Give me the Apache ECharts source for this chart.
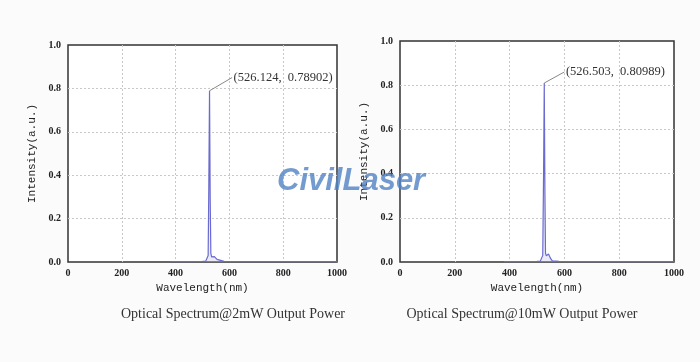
<!DOCTYPE html>
<html><head><meta charset="utf-8">
<script src="https://cdn.jsdelivr.net/npm/echarts@6/dist/echarts.min.js"></script>
<style>html,body{margin:0;padding:0;background:#fbfbfb;}#c{width:700px;height:362px;}</style>
</head><body><div id="c"></div>
<script>
// Wavelength (nm) sample points and intensities
var wl2mW = [380, 450, 500, 512, 518, 521, 523.5, 526.124, 528.5, 531, 534, 538, 544, 550, 554, 560, 580, 650, 750, 850, 1000];
var int2mW = [0.002, 0.002, 0.003, 0.004, 0.008, 0.03, 0.35, 0.78902, 0.3, 0.04, 0.024, 0.026, 0.025, 0.022, 0.012, 0.005, 0.003, 0.002, 0.002, 0.002, 0.002];
var wl10mW = [380, 450, 500, 512, 518, 521, 524, 526.503, 529, 531, 534, 538, 542, 546, 550, 556, 580, 650, 750, 850, 1000];
var int10mW = [0.002, 0.002, 0.003, 0.004, 0.008, 0.03, 0.4, 0.80989, 0.3, 0.04, 0.028, 0.03, 0.036, 0.028, 0.015, 0.005, 0.003, 0.002, 0.002, 0.002, 0.002];
var peak2mW = [526.124, 0.78902];
var peak10mW = [526.503, 0.80989];
var xTicks = [0, 200, 400, 600, 800, 1000];
var yTicks = [0.0, 0.2, 0.4, 0.6, 0.8, 1.0];
var captions = ['Optical Spectrum@2mW Output Power', 'Optical Spectrum@10mW Output Power'];

function pairs(xs, ys){ return xs.map(function(x,i){return [x, ys[i]];}); }

var tickFont = {fontFamily:'Liberation Serif', fontWeight:'bold', fontSize:10, color:'#222'};
var nameFont = {fontFamily:'Liberation Mono', fontSize:11, color:'#222'};
var split = {show:true, showMinLine:false, showMaxLine:false, lineStyle:{color:'#c8c8c8', type:[2,2], width:1}};

function xAxis(gi){
  return {gridIndex:gi, type:'value', min:0, max:1000, interval:200,
    name:'Wavelength(nm)', nameLocation:'middle', nameGap:20, nameTextStyle:nameFont,
    axisLine:{show:false}, axisTick:{show:false},
    axisLabel:Object.assign({margin:6, formatter:function(v){return String(v);}}, tickFont),
    splitLine:split};
}
function yAxis(gi){
  return {gridIndex:gi, type:'value', min:0, max:1, interval:0.2,
    name:'Intensity(a.u.)', nameLocation:'middle', nameGap:30, nameTextStyle:nameFont,
    axisLine:{show:false}, axisTick:{show:false},
    axisLabel:Object.assign({margin:7, formatter:function(v){return v.toFixed(1);}}, tickFont),
    splitLine:split};
}
function series(gi, xs, ys, peak, labEnd){
  return {type:'line', xAxisIndex:gi, yAxisIndex:gi, data:pairs(xs, ys), showSymbol:false, symbol:'none',
    lineStyle:{color:'#6a6ad0', width:1.2}, areaStyle:{color:'rgba(190,190,235,0.45)'},
    markLine:{silent:true, symbol:'none', lineStyle:{color:'#888', type:'solid', width:1}, label:{show:false},
      data:[[{coord:peak}, {coord:labEnd}]]},
    markPoint:{silent:true, symbol:'circle', symbolSize:1, itemStyle:{color:'rgba(0,0,0,0)'},
      label:{show:true, position:'right', distance:1, fontFamily:'Liberation Serif', fontSize:12.5, color:'#333',
        formatter:'(' + peak[0] + ',  ' + peak[1] + ')'},
      data:[{coord:labEnd}]}
  };
}

var chart = echarts.init(document.getElementById('c'), null, {renderer:'canvas'});
chart.setOption({
  backgroundColor:'#fbfbfb',
  animation:false,
  grid:[
    {left:68, top:45, width:269, height:217, show:true, backgroundColor:'#ffffff', borderColor:'#333', borderWidth:1.5},
    {left:400, top:41, width:274, height:221, show:true, backgroundColor:'#ffffff', borderColor:'#333', borderWidth:1.5}
  ],
  xAxis:[xAxis(0), xAxis(1)],
  yAxis:[yAxis(0), yAxis(1)],
  title:[
    {text:captions[0], left:228, top:302, textAlign:'center', textStyle:{fontFamily:'Liberation Serif', fontWeight:'normal', fontSize:14, color:'#333'}},
    {text:captions[1], left:517, top:302, textAlign:'center', textStyle:{fontFamily:'Liberation Serif', fontWeight:'normal', fontSize:14, color:'#333'}}
  ],
  series:[
    series(0, wl2mW, int2mW, peak2mW, [610, 0.85]),
    series(1, wl10mW, int10mW, peak10mW, [600, 0.86])
  ],
  graphic:[
    {type:'text', left:277, top:166, z:100, style:{text:'CivilLaser', font:'italic bold 31px "Liberation Sans"', fill:'rgba(80,130,195,0.8)'}}
  ]
});
</script></body></html>
